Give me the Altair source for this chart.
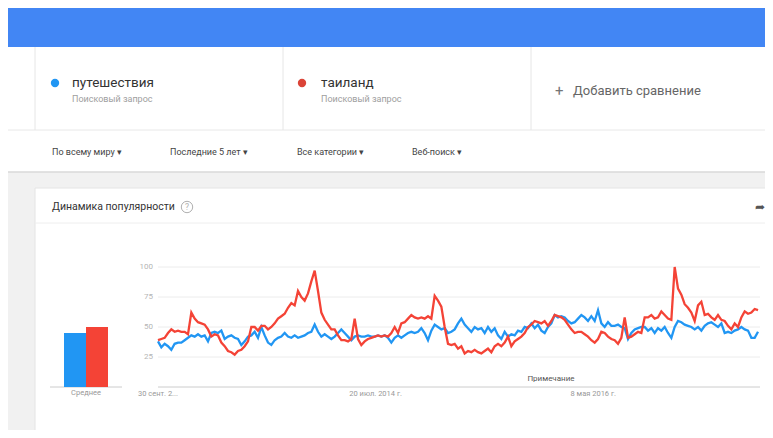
import altair as alt
import pandas as pd

FONT = "Roboto"

# ---------------- data ----------------
terms = ["путешествия", "таиланд"]
colors = ["#2196F3", "#F44336"]
averages = [45, 50]

travel = [
    38, 33, 36, 34, 31, 36, 37, 37, 39, 41,
    43, 42, 44, 42, 43, 38, 45, 46, 45, 47,
    40, 42, 43, 41, 40, 35, 38, 42, 43, 46,
    41, 50, 43, 37, 35, 39, 41, 42, 45, 42,
    41, 43, 41, 42, 43, 45, 46, 52, 46, 42,
    44, 42, 40, 42, 45, 48, 45, 42, 39, 42,
    43, 42, 42, 43, 42, 42, 43, 42, 43, 41,
    37, 41, 43, 41, 43, 45, 46, 45, 46, 49,
    45, 39, 47, 52, 50, 48, 49, 45, 46, 48,
    53, 57, 52, 49, 46, 50, 48, 49, 45, 50,
    46, 49, 43, 40, 46, 42, 44, 43, 47, 46,
    50, 49, 53, 49, 52, 47, 45, 50, 53, 60,
    58, 59, 58, 55, 53, 54, 57, 60, 58, 55,
    59, 55, 64, 53, 50, 54, 51, 51, 52, 50,
    49, 40, 45, 48, 49, 50, 50, 47, 49, 45,
    49, 47, 50, 45, 41, 50, 55, 54, 52, 51,
    50, 48, 50, 47, 51, 53, 54, 52, 50, 53,
    45, 46, 45, 47, 48, 50, 48, 47, 41, 41,
    46,
]

thailand = [
    39, 40, 41, 45, 48, 46, 47, 46, 46, 44,
    62, 57, 54, 53, 52, 48, 42, 44, 43, 37,
    34, 30, 29, 27, 30, 31, 34, 38, 50, 50,
    47, 51, 51, 48, 50, 53, 57, 59, 61, 66,
    70, 68, 80, 75, 72, 78, 88, 97, 80, 62,
    56, 52, 48, 48, 43, 39, 39, 38, 40, 57,
    40, 35, 38, 40, 41, 42, 43, 42, 43, 42,
    45, 50, 45, 53, 54, 57, 60, 58, 57, 58,
    57, 59, 57, 76, 72, 67, 50, 36, 35, 36,
    32, 34, 28, 30, 29, 31, 29, 28, 30, 32,
    29, 34, 36, 34, 37, 42, 34, 38, 40, 42,
    45, 50, 52, 55, 54, 53, 55, 51, 55, 60,
    59, 58, 56, 52, 48, 45, 46, 46, 44, 42,
    39, 37, 40, 46, 45, 42, 40, 39, 36, 41,
    58, 41, 42, 44, 46, 45, 58, 58, 60, 57,
    58, 63, 60, 57, 56, 100, 82, 77, 69, 66,
    62, 55, 68, 71, 60, 61, 58, 56, 60, 56,
    55, 51, 48, 53, 50, 58, 63, 61, 62, 65,
    64,
]

series_start = "2012-09-30"
series_end = "2017-09-18"
axis_start = (2012, 9, 30)
axis_end = (2017, 9, 24)

y_ticks = [25, 50, 75, 100]
x_tick_dates = ["2012-09-30", "2014-07-20", "2016-05-08"]
x_tick_labels = ["30 сент. 2...", "20 июл. 2014 г.", "8 мая 2016 г."]
note_date = ["2016-01-01"]
note_label = ["Примечание"]
avg_label = "Среднее"

filters = ["По всему миру  ▾", "Последние 5 лет  ▾", "Все категории  ▾", "Веб-поиск  ▾"]
query_sub = "Поисковый запрос"
add_text = "Добавить сравнение"
card_title = "Динамика популярности"

# ---------------- tables ----------------
frames = []
for term, vals in zip(terms, [travel, thailand]):
    d = pd.date_range(series_start, series_end, periods=len(vals))
    frames.append(pd.DataFrame({"date": d, "value": vals, "term": term}))
lines_df = pd.concat(frames, ignore_index=True)

bars_df = pd.DataFrame({"term": terms, "value": averages})
grid_df = pd.DataFrame({"value": y_ticks})
base_df = pd.DataFrame({"value": [0]})
xlab_df = pd.DataFrame({"date": pd.to_datetime(x_tick_dates), "label": x_tick_labels})
note_df = pd.DataFrame({"date": pd.to_datetime(note_date), "label": note_label})
one = pd.DataFrame({"k": [0]})

# ---------------- scales ----------------
xscale = alt.Scale(
    domain=[alt.DateTime(year=axis_start[0], month=axis_start[1], date=axis_start[2]),
            alt.DateTime(year=axis_end[0], month=axis_end[1], date=axis_end[2])],
    range=[150, 752], nice=False)
yscale = alt.Scale(domain=[0, 100], range=[379, 259], nice=False)
cscale = alt.Scale(domain=terms, range=colors)


def txt(s, x, y, size, color, align="left", weight="normal"):
    return alt.Chart(one).mark_text(
        text=s, align=align, baseline="middle", fontSize=size, color=color,
        font=FONT, fontWeight=weight
    ).encode(x=alt.value(x), y=alt.value(y))


def box(x, x2, y, y2, color):
    return alt.Chart(one).mark_rect(color=color).encode(
        x=alt.value(x), x2=alt.value(x2), y=alt.value(y), y2=alt.value(y2))


def hline(x, x2, y, color, w=1):
    return alt.Chart(one).mark_rule(color=color, strokeWidth=w).encode(
        x=alt.value(x), x2=alt.value(x2), y=alt.value(y))


def vline(x, y, y2, color, w=1):
    return alt.Chart(one).mark_rule(color=color, strokeWidth=w).encode(
        x=alt.value(x), y=alt.value(y), y2=alt.value(y2))


def dot(x, y, color, size=70, filled=True):
    return alt.Chart(one).mark_point(
        shape="circle", filled=filled, size=size, color=color, opacity=1,
        strokeWidth=1
    ).encode(x=alt.value(x), y=alt.value(y))


deco = [
    box(0, 757, 0, 39, "#4286f4"),
    box(0, 757, 164, 422, "#f1f1f1"),
    hline(0, 757, 122, "#e8e8e8"),
    hline(0, 757, 164, "#d9d9d9", 1.5),
    vline(27, 39, 122, "#e6e6e6"),
    vline(275, 39, 122, "#e6e6e6"),
    vline(523, 39, 122, "#e6e6e6"),
    dot(47, 75, colors[0]),
    txt(terms[0], 64, 75, 13.5, "#333333"),
    txt(query_sub, 64, 91, 9, "#9e9e9e"),
    dot(294, 75, "#DB4437"),
    txt(terms[1], 313, 75, 13.5, "#333333"),
    txt(query_sub, 313, 91, 9, "#9e9e9e"),
    txt("+", 547, 83, 15, "#757575"),
    txt(add_text, 565, 83, 13, "#666666"),
    txt(filters[0], 44, 144, 9, "#444444"),
    txt(filters[1], 162, 144, 9, "#444444"),
    txt(filters[2], 289, 144, 9, "#444444"),
    txt(filters[3], 404, 144, 9, "#444444"),
    box(27, 757, 180, 422, "#ffffff"),
    hline(27, 757, 180, "#e4e4e4"),
    vline(27, 180, 422, "#e4e4e4"),
    hline(27, 757, 215, "#eeeeee"),
    txt(card_title, 44, 199, 10.5, "#333333"),
    dot(179, 199, "#b0b0b0", size=130, filled=False),
    txt("?", 179, 199, 8.5, "#b0b0b0", align="center"),
    txt("➦", 752, 199, 12, "#555555", align="center"),
    hline(42, 114, 379, "#cccccc"),
    txt(avg_label, 78, 385, 7.5, "#999999", align="center"),
]

grid = alt.Chart(grid_df).mark_rule(color="#ececec", strokeWidth=1).encode(
    y=alt.Y("value:Q", scale=yscale, axis=None),
    x=alt.value(150), x2=alt.value(752))

base = alt.Chart(base_df).mark_rule(color="#cccccc", strokeWidth=1).encode(
    y=alt.Y("value:Q", scale=yscale, axis=None),
    x=alt.value(150), x2=alt.value(752))

ylabels = alt.Chart(grid_df).mark_text(
    align="right", baseline="middle", fontSize=8, color="#b5b5b5", font=FONT
).encode(y=alt.Y("value:Q", scale=yscale, axis=None), text="value:Q",
         x=alt.value(145))

xlabels = alt.Chart(xlab_df).mark_text(
    align="center", baseline="middle", fontSize=7.5, color="#999999", font=FONT
).encode(x=alt.X("date:T", scale=xscale, axis=None), text="label:N",
         y=alt.value(386))

note = alt.Chart(note_df).mark_text(
    align="center", baseline="middle", fontSize=8, color="#555555", font=FONT
).encode(x=alt.X("date:T", scale=xscale, axis=None), text="label:N",
         y=alt.value(371))

lines = alt.Chart(lines_df).mark_line(strokeWidth=2.3, interpolate="linear").encode(
    x=alt.X("date:T", scale=xscale, axis=None),
    y=alt.Y("value:Q", scale=yscale, axis=None),
    color=alt.Color("term:N", scale=cscale, legend=None),
    detail="term:N",
)

bars = alt.Chart(bars_df).mark_bar(binSpacing=0).encode(
    x=alt.X("term:N", sort=terms,
            scale=alt.Scale(domain=terms, range=[56, 100], paddingInner=0, paddingOuter=0),
            axis=None),
    y=alt.Y("value:Q", scale=yscale, axis=None),
    color=alt.Color("term:N", scale=cscale, legend=None),
)

chart = alt.layer(
    *deco, grid, base, ylabels, xlabels, note, bars, lines
).resolve_scale(x="independent").properties(
    width=757, height=422, padding=0,
    autosize=alt.AutoSizeParams(type="none"),
    background="#ffffff",
).configure_view(stroke=None)

chart.save("out.html", embed_options={"renderer": "svg", "actions": False})
